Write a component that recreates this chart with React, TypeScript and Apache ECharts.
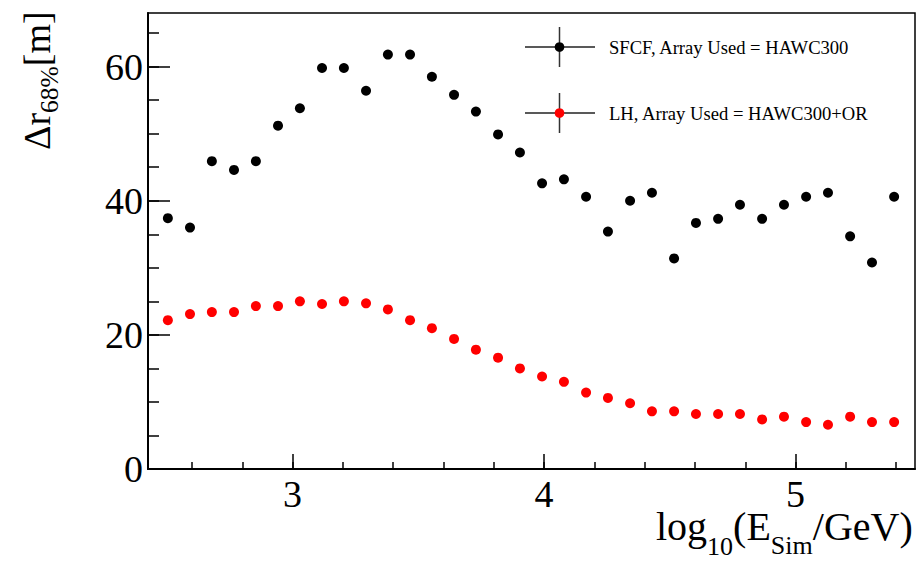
import React, { useEffect, useRef } from "react";
import * as echarts from "echarts";

const logE = [2.504, 2.592, 2.679, 2.767, 2.854, 2.942, 3.029, 3.117, 3.204, 3.292, 3.379, 3.467, 3.554, 3.642, 3.729, 3.817, 3.904, 3.992, 4.079, 4.167, 4.254, 4.342, 4.429, 4.517, 4.604, 4.692, 4.779, 4.867, 4.954, 5.042, 5.129, 5.217, 5.304, 5.392];
const sfcf = [37.4, 36.0, 45.9, 44.6, 45.9, 51.2, 53.8, 59.8, 59.8, 56.4, 61.8, 61.8, 58.5, 55.8, 53.3, 49.9, 47.2, 42.6, 43.2, 40.6, 35.4, 40.0, 41.2, 31.4, 36.7, 37.3, 39.4, 37.3, 39.4, 40.6, 41.2, 34.7, 30.8, 40.6];
const lh = [22.2, 23.1, 23.4, 23.4, 24.3, 24.3, 25.0, 24.6, 25.0, 24.7, 23.8, 22.2, 21.0, 19.4, 17.8, 16.6, 15.0, 13.8, 13.0, 11.4, 10.6, 9.8, 8.6, 8.6, 8.2, 8.2, 8.2, 7.4, 7.8, 7.0, 6.6, 7.8, 7.0, 7.0];
const xMajor = [3, 4, 5];
const xMinor = [2.6, 2.8, 3.0, 3.2, 3.4, 3.6, 3.8, 4.0, 4.2, 4.4, 4.6, 4.8, 5.0, 5.2, 5.4];
const yMajor = [0, 20, 40, 60];
const yMinor = [0, 5, 10, 15, 20, 25, 30, 35, 40, 45, 50, 55, 60, 65];
const seriesNames = ["SFCF, Array Used = HAWC300", "LH, Array Used = HAWC300+OR"];
const seriesColors = ["#000000", "#ff0000"];

const FONT = "'Liberation Serif', 'Times New Roman', serif";

export default function App() {
  const ref = useRef<HTMLDivElement>(null);
  useEffect(() => {
    if (!ref.current) return;
    const chart = echarts.init(ref.current, null, { renderer: "svg" });
    const X_MIN = 2.425, X_MAX = 5.475, Y_MIN = 0, Y_MAX = 68;
    const baseX = {
      type: "value", min: X_MIN, max: X_MAX, position: "bottom",
      splitLine: { show: false },
    };
    const baseY = {
      type: "value", min: Y_MIN, max: Y_MAX, position: "left",
      splitLine: { show: false },
    };
    const tickRich = { t: { fontFamily: FONT, fontSize: 38, lineHeight: 38, color: "#000" } };
    const legendRows = seriesNames.map((name, i) => {
      const cy = 47 + i * 66;
      return {
        type: "group",
        children: [
          { type: "line", shape: { x1: 525, y1: cy, x2: 595, y2: cy }, style: { stroke: "#222", lineWidth: 1.5 } },
          { type: "line", shape: { x1: 559.5, y1: cy - 20, x2: 559.5, y2: cy + 20 }, style: { stroke: "#333", lineWidth: 1.5 } },
          { type: "circle", shape: { cx: 559.5, cy, r: 4.8 }, style: { fill: seriesColors[i] } },
          {
            type: "text", x: 609, y: cy,
            style: {
              text: `{l|${name}}`, align: "left", verticalAlign: "middle",
              rich: { l: { fontFamily: FONT, fontSize: 18.6, lineHeight: 20, fill: "#000" } },
            },
          },
        ],
      };
    });
    chart.setOption({
      animation: false,
      backgroundColor: "#fff",
      grid: { left: 148, top: 13, width: 767, height: 456, show: true, borderColor: "#000", borderWidth: 1.5, backgroundColor: "transparent" },
      xAxis: [
        {
          ...baseX,
          axisLine: { show: true, lineStyle: { color: "#000", width: 2 } },
          axisTick: { show: true, inside: true, length: 15, customValues: xMajor, lineStyle: { color: "#000", width: 1.5 } },
          axisLabel: { show: true, customValues: xMajor, margin: 6, formatter: (v: number) => `{t|${v}}`, rich: tickRich },
        },
        {
          ...baseX,
          axisLine: { show: false },
          axisTick: { show: true, inside: true, length: 7, customValues: xMinor, lineStyle: { color: "#000", width: 1.5 } },
          axisLabel: { show: false },
        },
      ],
      yAxis: [
        {
          ...baseY,
          axisLine: { show: true, lineStyle: { color: "#000", width: 2 } },
          axisTick: { show: true, inside: true, length: 22, customValues: yMajor, lineStyle: { color: "#000", width: 1.5 } },
          axisLabel: { show: true, customValues: yMajor, margin: 5, formatter: (v: number) => `{t|${v}}`, rich: tickRich },
        },
        {
          ...baseY,
          axisLine: { show: false },
          axisTick: { show: true, inside: true, length: 11, customValues: yMinor, lineStyle: { color: "#000", width: 1.5 } },
          axisLabel: { show: false },
        },
      ],
      series: [
        {
          name: seriesNames[0], type: "scatter", xAxisIndex: 0, yAxisIndex: 0,
          data: logE.map((x, i) => [x, sfcf[i]]),
          symbol: "circle", symbolSize: 10, itemStyle: { color: seriesColors[0], opacity: 1 },
        },
        {
          name: seriesNames[1], type: "scatter", xAxisIndex: 0, yAxisIndex: 0,
          data: logE.map((x, i) => [x, lh[i]]),
          symbol: "circle", symbolSize: 10, itemStyle: { color: seriesColors[1], opacity: 1 },
        },
      ],
      graphic: [
        ...legendRows,
        {
          type: "text", x: 656, y: 506,
          style: {
            text: "{m|log}{a|10}{m|(E}{b|Sim}{m|/GeV)}",
            align: "left", verticalAlign: "top",
            rich: {
              m: { fontFamily: FONT, fontSize: 40, lineHeight: 40, verticalAlign: "top", fill: "#000" },
              a: { fontFamily: FONT, fontSize: 26, lineHeight: 20, verticalAlign: "top", padding: [27, 0, 0, 0], fill: "#000" },
              b: { fontFamily: FONT, fontSize: 26, lineHeight: 20, verticalAlign: "top", padding: [26, 0, 0, 0], fill: "#000" },
            },
          },
        },
        {
          type: "text", x: 18, y: 150, rotation: Math.PI / 2,
          style: {
            text: "{m|Δr}{s|68%}{m|[m]}",
            align: "left", verticalAlign: "top",
            rich: {
              m: { fontFamily: FONT, fontSize: 38, lineHeight: 38, verticalAlign: "top", fill: "#000" },
              s: { fontFamily: FONT, fontSize: 25.5, lineHeight: 25.5, verticalAlign: "top", padding: [18, 0, 0, 0], fill: "#000" },
            },
          },
        },
      ],
    });
    return () => chart.dispose();
  }, []);
  return <div ref={ref} style={{ position: "fixed", left: 0, top: 0, width: 919, height: 561 }} />;
}
